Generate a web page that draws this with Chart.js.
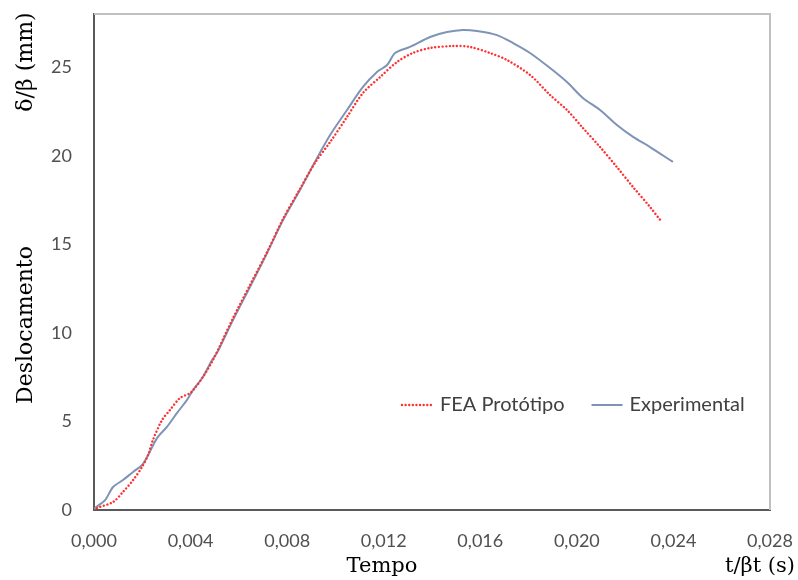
<!DOCTYPE html>
<html>
<head>
<meta charset="utf-8">
<script src="https://cdn.jsdelivr.net/npm/chart.js@4.4.1/dist/chart.umd.min.js"></script>
<style>
  html, body { margin: 0; padding: 0; background: #fff; }
  #wrap { width: 798px; height: 580px; }
</style>
</head>
<body>
<div id="wrap"><canvas id="myChart"></canvas></div>
<script>
// time (s) and displacement (mm)
const expTime = [0, 0.00004, 0.00046, 0.00079, 0.00120, 0.00162, 0.00199, 0.00220, 0.00261, 0.00302, 0.00344, 0.00385, 0.00410, 0.00451, 0.00489, 0.00509, 0.00576, 0.00646, 0.00717, 0.00783, 0.00853, 0.00915, 0.00978, 0.01048, 0.01114, 0.01172, 0.01214, 0.01247, 0.01309, 0.01392, 0.01462, 0.01528, 0.01586, 0.01669, 0.01736, 0.01806, 0.01889, 0.01959, 0.02025, 0.02096, 0.02166, 0.02233, 0.02303, 0.02398];
const expDispl = [0, 0.11, 0.56, 1.30, 1.69, 2.15, 2.54, 2.99, 4.06, 4.69, 5.48, 6.21, 6.77, 7.51, 8.47, 8.86, 10.73, 12.59, 14.51, 16.37, 18.06, 19.65, 21.17, 22.58, 23.88, 24.73, 25.12, 25.80, 26.14, 26.70, 26.98, 27.10, 27.04, 26.81, 26.36, 25.80, 24.95, 24.16, 23.26, 22.58, 21.73, 21.06, 20.49, 19.65];

const feaTime = [0, 0.00012, 0.00079, 0.00120, 0.00162, 0.00199, 0.00224, 0.00244, 0.00282, 0.00315, 0.00356, 0.00398, 0.00418, 0.00451, 0.00493, 0.00576, 0.00646, 0.00717, 0.00783, 0.00853, 0.00915, 0.00978, 0.01048, 0.01114, 0.01185, 0.01255, 0.01321, 0.01392, 0.01487, 0.01557, 0.01640, 0.01711, 0.01806, 0.01889, 0.01959, 0.02025, 0.02096, 0.02166, 0.02233, 0.02303, 0.02349];
const feaDispl = [0, 0.11, 0.45, 1.02, 1.69, 2.43, 3.10, 3.95, 5.08, 5.65, 6.32, 6.60, 6.89, 7.51, 8.47, 10.84, 12.70, 14.56, 16.43, 18.12, 19.59, 20.77, 22.19, 23.54, 24.44, 25.29, 25.80, 26.08, 26.19, 26.14, 25.80, 25.40, 24.56, 23.43, 22.58, 21.57, 20.49, 19.36, 18.23, 17.11, 16.31];

const xTicks = [0, 0.004, 0.008, 0.012, 0.016, 0.020, 0.024, 0.028];
const yTicks = [0, 5, 10, 15, 20, 25];

const toPoints = (xs, ys) => xs.map((x, i) => ({ x: x, y: ys[i] }));

const RED = '#ff3030';
const BLUE = '#7f94b5';
const SANS = 'Lato, "Open Sans", sans-serif';
const SERIF = '"DejaVu Serif", "Liberation Serif", serif';

// frame, axis words and the legend inside the plot
const extras = {
  id: 'extras',
  afterDraw(chart) {
    const { ctx, chartArea: a } = chart;
    ctx.save();
    ctx.strokeStyle = '#c0c0c0';
    ctx.lineWidth = 2;
    ctx.beginPath();
    ctx.moveTo(a.left, a.top);
    ctx.lineTo(a.right, a.top);
    ctx.lineTo(a.right, a.bottom);
    ctx.stroke();

    ctx.fillStyle = '#000';
    ctx.font = '21px ' + SERIF;
    ctx.textBaseline = 'middle';
    ctx.textAlign = 'center';
    ctx.fillText('Tempo', 382, 567);
    ctx.textAlign = 'right';
    ctx.fillText('t/βt (s)', 795, 567);
    ctx.textAlign = 'center';

    ctx.font = '22px ' + SERIF;
    ctx.save();
    ctx.translate(26, 325);
    ctx.rotate(-Math.PI / 2);
    ctx.fillText('Deslocamento', 0, 0);
    ctx.restore();
    ctx.save();
    ctx.translate(26, 62);
    ctx.rotate(-Math.PI / 2);
    ctx.fillText('δ/β (mm)', 0, 0);
    ctx.restore();

    // legend
    const ds = chart.data.datasets;
    const ly = 405;
    ctx.font = '20px ' + SANS;
    ctx.textAlign = 'left';
    ctx.fillStyle = '#404040';
    let x = 400;
    ds.forEach((d) => {
      ctx.beginPath();
      ctx.strokeStyle = d.borderColor;
      ctx.lineWidth = d.borderWidth;
      ctx.lineCap = d.borderCapStyle || 'butt';
      ctx.setLineDash(d.borderDash || []);
      ctx.moveTo(x + 2, ly);
      ctx.lineTo(x + 33, ly);
      ctx.stroke();
      ctx.setLineDash([]);
      ctx.fillText(d.label, x + 40, ly);
      x += 40 + ctx.measureText(d.label).width + 25;
    });
    ctx.restore();
  }
};

const data = {
  datasets: [{
    label: 'FEA Protótipo',
    data: toPoints(feaTime, feaDispl),
    borderColor: RED,
    borderWidth: 2.4,
    borderDash: [0.01, 3.6],
    borderCapStyle: 'round',
    pointRadius: 0,
    tension: 0.3,
    fill: false
  }, {
    label: 'Experimental',
    data: toPoints(expTime, expDispl),
    borderColor: BLUE,
    borderWidth: 2,
    pointRadius: 0,
    tension: 0.3,
    fill: false
  }]
};

const config = {
  type: 'line',
  data: data,
  options: {
    responsive: true,
    maintainAspectRatio: false,
    animation: false,
    layout: { padding: { left: 0, right: 28, top: 14, bottom: 0 } },
    plugins: {
      legend: { display: false },
      tooltip: { enabled: false }
    },
    scales: {
      x: {
        type: 'linear',
        min: 0,
        max: 0.028,
        afterFit: (s) => { s.height = 70; s.paddingLeft = 0; s.paddingRight = 0; },
        afterBuildTicks: (s) => { s.ticks = xTicks.map(v => ({ value: v })); },
        grid: { display: false, drawTicks: false },
        border: { color: '#595959', width: 2 },
        ticks: {
          padding: 20,
          color: '#505050',
          font: { family: SANS, size: 18 },
          maxRotation: 0,
          callback: (v) => v.toFixed(3).replace('.', ',')
        }
      },
      y: {
        min: 0,
        max: 28,
        afterFit: (s) => { s.width = 94; s.paddingTop = 0; s.paddingBottom = 0; },
        afterBuildTicks: (s) => { s.ticks = yTicks.map(v => ({ value: v })); },
        grid: { display: false, drawTicks: false },
        border: { color: '#595959', width: 2 },
        ticks: {
          padding: 22,
          color: '#505050',
          font: { family: SANS, size: 18 }
        }
      }
    }
  },
  plugins: [extras]
};

const myChart = new Chart(document.getElementById('myChart'), config);
</script>
</body>
</html>
